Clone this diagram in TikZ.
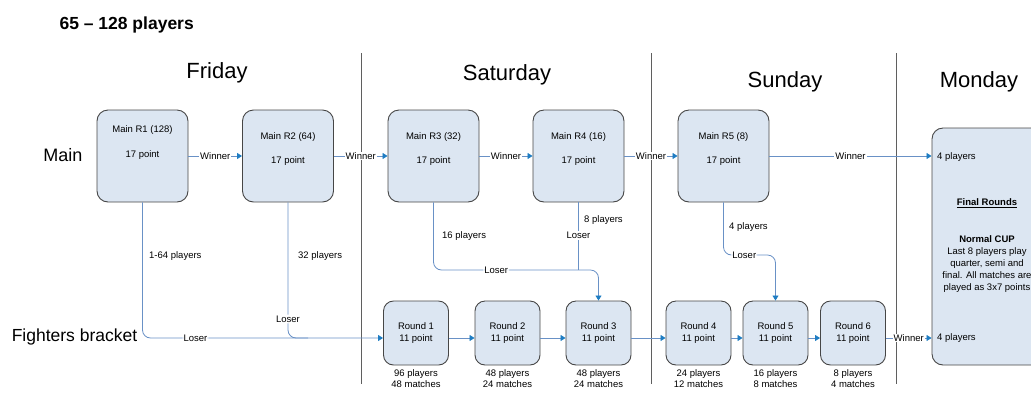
\documentclass[tikz,border=0pt]{standalone}
\usepackage{fontspec}
\setmainfont{Liberation Sans}
\usetikzlibrary{arrows.meta}

\definecolor{boxfill}{RGB}{220,230,242}
\definecolor{boxline}{RGB}{70,70,70}
\definecolor{flowline}{RGB}{105,145,198}
\definecolor{tipblue}{RGB}{30,125,195}
\definecolor{dayline}{RGB}{95,95,95}

\begin{document}
\begin{tikzpicture}[x=1pt,y=-1pt,
  mainbox/.style={draw=boxline,fill=boxfill,line width=0.9pt,rounded corners=11pt,
    minimum width=91pt,minimum height=92pt,inner sep=0pt},
  roundbox/.style={draw=boxline,fill=boxfill,line width=0.9pt,rounded corners=10pt,
    minimum width=65pt,minimum height=64pt,inner sep=0pt,align=center,
    font=\fontsize{9.5}{12}\selectfont},
  smalltext/.style={font=\fontsize{9.5}{11}\selectfont,inner sep=1pt},
  flowtag/.style={smalltext,fill=white},
  flow/.style={draw=flowline,line width=0.8pt},
  winarrow/.style={flow,-{Triangle[width=6pt,length=5pt,color=tipblue]}},
  daytitle/.style={font=\fontsize{22}{26}\selectfont},
  sepline/.style={draw=dayline,line width=1pt},
  ]

\useasboundingbox (0,0) rectangle (1031,392);
\clip (0,0) rectangle (1031,392);

% Titel
\node[font=\fontsize{17.5}{20}\selectfont\bfseries,anchor=west] (title) at (56,25) {65 \textendash{} 128 players};

% Tage
\draw[sepline] (361,53) -- (361,384);
\draw[sepline] (651,53) -- (651,384);
\draw[sepline] (896,53) -- (896,384);
\node[daytitle] (fri) at (217,73) {Friday};
\node[daytitle] (sat) at (507,75) {Saturday};
\node[daytitle] (sun) at (785,82) {Sunday};
\node[daytitle] (mon) at (979,82) {Monday};

% Zeilen
\node[font=\fontsize{18}{20}\selectfont] (mainlbl) at (63,155) {Main};
\node[font=\fontsize{17.5}{20}\selectfont] (fightlbl) at (74.5,337) {Fighters bracket};
\coordinate (fb) at (0,338);
\coordinate (lose3) at (0,270);
\coordinate (lose5) at (0,255);

% Hauptrunden
\node[mainbox] (m1) at (142.5,156) {};
\node[smalltext] (m1name) at (142.5,130) {Main R1 (128)};
\node[smalltext] (m1pts) at (142.5,155) {17 point};

\node[mainbox] (m2) at (288,156) {};
\node[smalltext] (m2name) at (288,137) {Main R2 (64)};
\node[smalltext] (m2pts) at (288,161) {17 point};

\node[mainbox] (m3) at (433.5,156) {};
\node[smalltext] (m3name) at (433.5,137) {Main R3 (32)};
\node[smalltext] (m3pts) at (433.5,161) {17 point};

\node[mainbox] (m4) at (578.5,156) {};
\node[smalltext] (m4name) at (578.5,137) {Main R4 (16)};
\node[smalltext] (m4pts) at (578.5,161) {17 point};

\node[mainbox] (m5) at (723.5,156) {};
\node[smalltext] (m5name) at (723.5,137) {Main R5 (8)};
\node[smalltext] (m5pts) at (723.5,161) {17 point};

% Finale
\node[draw=boxline,fill=boxfill,line width=0.9pt,rounded corners=11pt,
  minimum width=140pt,minimum height=237pt] (fin) at (1002,246.5) {};
\node[smalltext,anchor=west] (fintop) at (936,157) {4 players};
\node[smalltext,font=\fontsize{9.5}{11}\selectfont\bfseries] (finhead) at (987,203) {\underline{Final Rounds}};
\node[smalltext,align=center,font=\fontsize{9.5}{12}\selectfont] (fincup) at (987,264)
  {\textbf{Normal CUP}\\Last 8 players play\\quarter, semi and\\final. All matches are\\played as 3x7 points};
\node[smalltext,anchor=west] (finbot) at (936,338) {4 players};

% Fighters bracket Runden
\node[roundbox] (r1) at (416,333) {Round 1\\11 point};
\node[roundbox] (r2) at (507.5,333) {Round 2\\11 point};
\node[roundbox] (r3) at (598.5,333) {Round 3\\11 point};
\node[roundbox] (r4) at (698.5,333) {Round 4\\11 point};
\node[roundbox] (r5) at (775.5,333) {Round 5\\11 point};
\node[roundbox] (r6) at (853,333) {Round 6\\11 point};

\node[smalltext,align=center,anchor=north] (r1info) at ([yshift=-3pt]r1.south) {96 players\\48 matches};
\node[smalltext,align=center,anchor=north] (r2info) at ([yshift=-3pt]r2.south) {48 players\\24 matches};
\node[smalltext,align=center,anchor=north] (r3info) at ([yshift=-3pt]r3.south) {48 players\\24 matches};
\node[smalltext,align=center,anchor=north] (r4info) at ([yshift=-3pt]r4.south) {24 players\\12 matches};
\node[smalltext,align=center,anchor=north] (r5info) at ([yshift=-3pt]r5.south) {16 players\\8 matches};
\node[smalltext,align=center,anchor=north] (r6info) at ([yshift=-3pt]r6.south) {8 players\\4 matches};

% Gewinner
\draw[winarrow] (m1) -- node[flowtag]{Winner} (m2);
\draw[winarrow] (m2) -- node[flowtag]{Winner} (m3);
\draw[winarrow] (m3) -- node[flowtag]{Winner} (m4);
\draw[winarrow] (m4) -- node[flowtag]{Winner} (m5);
\draw[winarrow] (m5) -- node[flowtag]{Winner} (fin.west |- m5);

% Verlierer
\draw[winarrow,rounded corners=8pt] (m1.south) -- (m1.south |- fb) -- node[flowtag,pos=0.22]{Loser} (r1.west |- fb);
\node[smalltext,anchor=west] (m1lose) at (148,256) {1-64 players};
\draw[flow,rounded corners=8pt] (m2.south) -- node[flowtag,pos=0.86]{Loser} (m2.south |- fb) -- ++(20,0);
\node[smalltext,anchor=west] (m2lose) at (297,256) {32 players};
\draw[winarrow,rounded corners=8pt] (m3.south) -- (m3.south |- lose3) -- node[flowtag,pos=0.38]{Loser} (r3.north |- lose3) -- (r3.north);
\node[smalltext,anchor=west] (m3lose) at (441,236) {16 players};
\draw[flow] (m4.south) -- node[flowtag,pos=0.49]{Loser} (m4.south |- lose3);
\node[smalltext,anchor=west] (m4lose) at (583,220) {8 players};
\draw[winarrow,rounded corners=8pt] (m5.south) -- (m5.south |- lose5) -- node[flowtag,pos=0.4]{Loser} (r5.north |- lose5) -- (r5.north);
\node[smalltext,anchor=west] (m5lose) at (728,227) {4 players};

% Fighters bracket Pfeile
\draw[winarrow] (r1.east |- fb) -- (r2.west |- fb);
\draw[winarrow] (r2.east |- fb) -- (r3.west |- fb);
\draw[winarrow] (r3.east |- fb) -- (r4.west |- fb);
\draw[winarrow] (r4.east |- fb) -- (r5.west |- fb);
\draw[winarrow] (r5.east |- fb) -- (r6.west |- fb);
\draw[winarrow] (r6.east |- fb) -- node[flowtag]{Winner} (fin.west |- fb);

\end{tikzpicture}
\end{document}
